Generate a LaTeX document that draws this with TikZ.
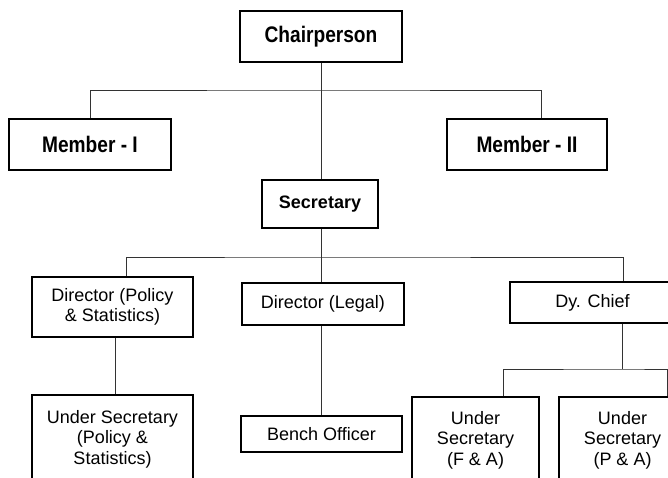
\documentclass[tikz,border=0pt]{standalone}
\usepackage{fontspec}
\setmainfont{Liberation Sans}
\newfontfamily\condb{Liberation Sans}[FakeStretch=0.85]
\begin{document}
\begin{tikzpicture}[x=1pt,y=-1pt,
  box/.style={draw=black,line width=1.4pt,fill=white,inner sep=0pt,align=center},
  headbox/.style={box,font=\condb\bfseries\fontsize{22.5}{24}\selectfont},
  secbox/.style={box,font=\bfseries\fontsize{18}{20}\selectfont},
  plainbox/.style={box,font=\fontsize{18}{20.5}\selectfont},
  conn/.style={draw=black!80,line width=1pt}]
\useasboundingbox (0,0) rectangle (668,477);
% nodes
\node[headbox,minimum width=162pt,minimum height=51pt] (chair) at (321,36.5) {Chairperson};
\node[headbox,minimum width=162pt,minimum height=51pt] (mem1) at (90,144.5) {Member - I};
\node[headbox,minimum width=160pt,minimum height=51pt] (mem2) at (527,144.5) {Member - II};
\node[secbox,minimum width=116pt,minimum height=48pt] (sec) at (320,204) {Secretary};
\node[plainbox,minimum width=161pt,minimum height=60pt] (dps) at (112.5,307) {Director (Policy\\\& Statistics)};
\node[plainbox,minimum width=162pt,minimum height=42pt] (dleg) at (323,304) {Director (Legal)};
\node[plainbox,minimum width=165pt,minimum height=41pt] (dy) at (592.5,302.5) {Dy. Chief};
\node[plainbox,minimum width=161pt,minimum height=88pt] (usps) at (112.5,439) {Under Secretary\\(Policy \&\\Statistics)};
\node[plainbox,minimum width=161pt,minimum height=36pt] (bench) at (321.5,434) {Bench Officer};
\node[plainbox,minimum width=127pt,minimum height=86pt] (usfa) at (475.5,440) {Under\\Secretary\\(F \& A)};
\node[plainbox,minimum width=127pt,minimum height=86pt] (uspa) at (622.5,440) {Under\\Secretary\\(P \& A)};
% junctions
\coordinate (b1) at (321,90);
\coordinate (b2) at (321,257);
\coordinate (b3) at (622,369);
% connectors
\draw[conn] (chair.south) -- (chair.south |- sec.north);
\draw[conn] (mem1.north) |- (b1) -| ([xshift=14pt]mem2.north);
\draw[conn] ([xshift=1pt]sec.south) -- (b2);
\draw[conn] ([xshift=13.5pt]dps.north) |- (b2) -| ([xshift=30.5pt]dy.north);
\draw[conn] (b2) -- (b2 |- dleg.north);
\draw[conn] ([xshift=2.5pt]dps.south) -- ([xshift=2.5pt]usps.north);
\draw[conn] ([xshift=-2pt]dleg.south) -- ([xshift=-2pt]dleg.south |- bench.north);
\draw[conn] ([xshift=29.5pt]dy.south) -- (b3);
\draw[conn] ([xshift=27.5pt]usfa.north) |- (b3) -| ([xshift=44.5pt]uspa.north);
\end{tikzpicture}
\end{document}
